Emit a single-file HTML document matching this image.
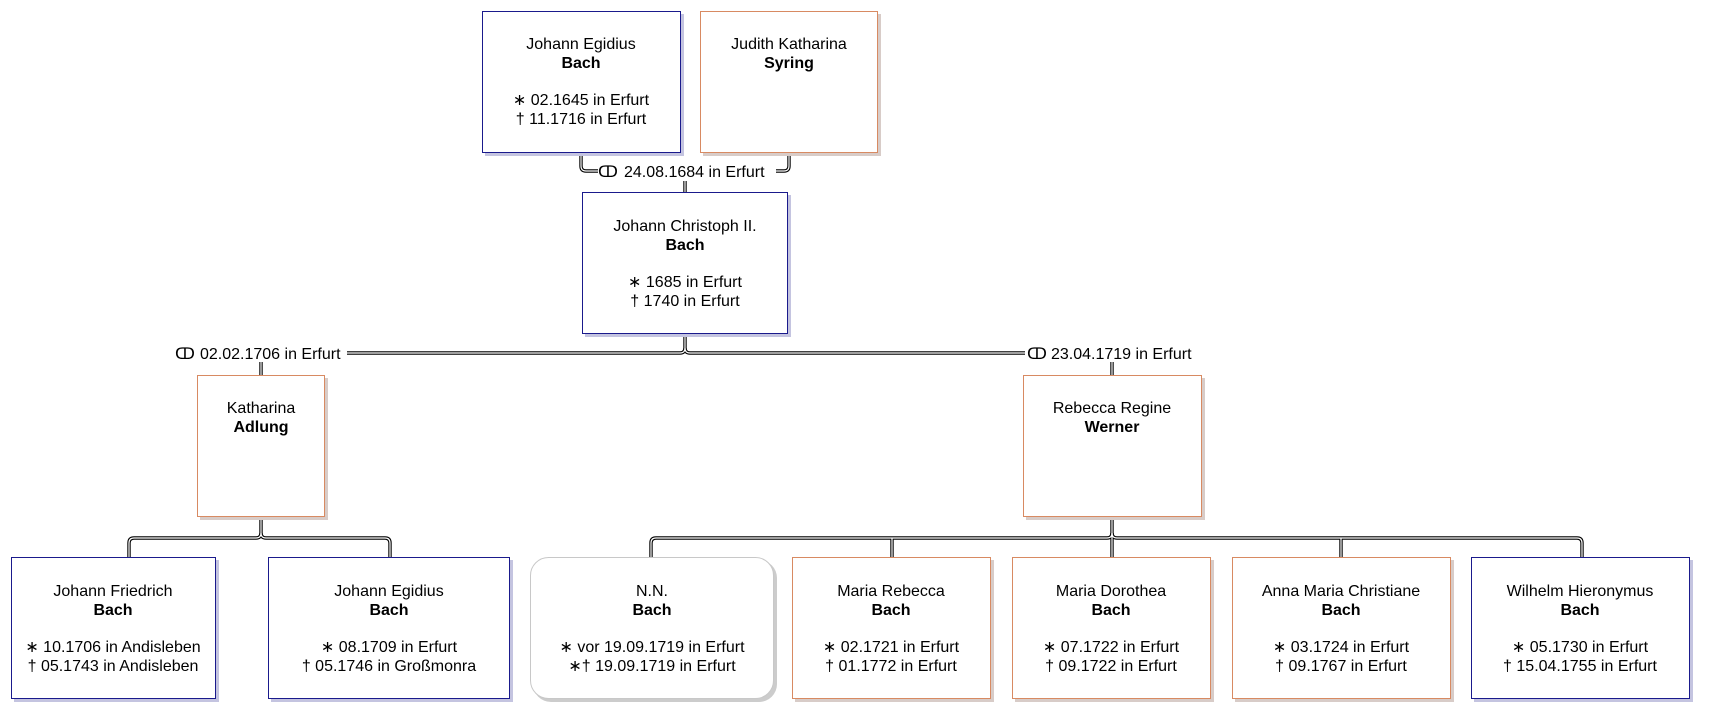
<!DOCTYPE html>
<html><head><meta charset="utf-8"><style>
html,body{margin:0;padding:0;background:#fff;}
svg{display:block;}
text{font-family:"Liberation Sans",sans-serif;font-size:16px;fill:#000;}
.b{font-weight:bold;}
</style></head><body>
<svg width="1710" height="718" viewBox="0 0 1710 718" xmlns="http://www.w3.org/2000/svg">
<g fill="none" stroke-linejoin="round">
<g stroke="#000" stroke-width="3.4">
<path d="M581 153 V166 Q581 171 586 171 H598"/>
<path d="M789 153 V166 Q789 171 784 171 H776"/>
<path d="M685 181 V192"/>
<path d="M685 334 V348 Q685 353 680 353 H347"/>
<path d="M685 348 Q685 353 690 353 H1025"/>
<path d="M261 362 V375"/>
<path d="M1112 362 V375"/>
<path d="M261 517 V533 Q261 538 256 538 H134 Q129 538 129 543 V557"/>
<path d="M261 533 Q261 538 266 538 H385 Q390 538 390 543 V557"/>
<path d="M1112 517 V557"/>
<path d="M1112 533 Q1112 538 1107 538 H656 Q651 538 651 543 V557"/>
<path d="M1112 533 Q1112 538 1117 538 H1577 Q1582 538 1582 543 V557"/>
<path d="M892 538 V557"/><path d="M1341 538 V557"/>
</g>
<g stroke="#fff" stroke-width="1.2">
<path d="M581 153 V166 Q581 171 586 171 H598"/>
<path d="M789 153 V166 Q789 171 784 171 H776"/>
<path d="M685 181 V192"/>
<path d="M685 334 V348 Q685 353 680 353 H347"/>
<path d="M685 348 Q685 353 690 353 H1025"/>
<path d="M261 362 V375"/>
<path d="M1112 362 V375"/>
<path d="M261 517 V533 Q261 538 256 538 H134 Q129 538 129 543 V557"/>
<path d="M261 533 Q261 538 266 538 H385 Q390 538 390 543 V557"/>
<path d="M1112 517 V557"/>
<path d="M1112 533 Q1112 538 1107 538 H656 Q651 538 651 543 V557"/>
<path d="M1112 533 Q1112 538 1117 538 H1577 Q1582 538 1582 543 V557"/>
<path d="M892 538 V557"/><path d="M1341 538 V557"/>
</g>
</g>
<text x="598" y="177">ↀ</text><text x="624" y="177">24.08.1684 in Erfurt</text>
<text x="175" y="359">ↀ</text><text x="200" y="359">02.02.1706 in Erfurt</text>
<text x="1027" y="359">ↀ</text><text x="1051" y="359">23.04.1719 in Erfurt</text>

<g>
<rect x="485" y="14" width="199" height="142" fill="#c4c4e0"/>
<rect x="482.5" y="11.5" width="198" height="141" fill="#fff" stroke="#1a1a8c"/>
<rect x="703" y="14" width="178" height="142" fill="#d8ccc8"/>
<rect x="700.5" y="11.5" width="177" height="141" fill="#fff" stroke="#d88a62"/>
<rect x="585" y="195" width="206" height="142" fill="#c4c4e0"/>
<rect x="582.5" y="192.5" width="205" height="141" fill="#fff" stroke="#1a1a8c"/>
<rect x="200" y="378" width="128" height="142" fill="#d8ccc8"/>
<rect x="197.5" y="375.5" width="127" height="141" fill="#fff" stroke="#d88a62"/>
<rect x="1026" y="378" width="179" height="142" fill="#d8ccc8"/>
<rect x="1023.5" y="375.5" width="178" height="141" fill="#fff" stroke="#d88a62"/>

<rect x="14" y="560" width="205" height="142" fill="#c4c4e0"/>
<rect x="11.5" y="557.5" width="204" height="141" fill="#fff" stroke="#1a1a8c"/>
<rect x="271" y="560" width="242" height="142" fill="#c4c4e0"/>
<rect x="268.5" y="557.5" width="241" height="141" fill="#fff" stroke="#1a1a8c"/>
<rect x="533" y="560" width="244" height="142" rx="18" fill="#cccccc"/>
<rect x="530.5" y="557.5" width="243" height="141" rx="18" fill="#fff" stroke="#c8c8c8"/>
<rect x="795" y="560" width="199" height="142" fill="#d8ccc8"/>
<rect x="792.5" y="557.5" width="198" height="141" fill="#fff" stroke="#d88a62"/>
<rect x="1015" y="560" width="199" height="142" fill="#d8ccc8"/>
<rect x="1012.5" y="557.5" width="198" height="141" fill="#fff" stroke="#d88a62"/>
<rect x="1235" y="560" width="219" height="142" fill="#d8ccc8"/>
<rect x="1232.5" y="557.5" width="218" height="141" fill="#fff" stroke="#d88a62"/>
<rect x="1474" y="560" width="219" height="142" fill="#c4c4e0"/>
<rect x="1471.5" y="557.5" width="218" height="141" fill="#fff" stroke="#1a1a8c"/>
</g>

<g text-anchor="middle">
<text x="581" y="49">Johann Egidius</text><text x="581" y="68" class="b">Bach</text>
<text x="581" y="105">∗  02.1645 in Erfurt</text><text x="581" y="124">†  11.1716 in Erfurt</text>

<text x="789" y="49">Judith Katharina</text><text x="789" y="68" class="b">Syring</text>

<text x="685" y="231">Johann Christoph II.</text><text x="685" y="250" class="b">Bach</text>
<text x="685" y="287">∗  1685 in Erfurt</text><text x="685" y="306">†  1740 in Erfurt</text>

<text x="261" y="413">Katharina</text><text x="261" y="432" class="b">Adlung</text>
<text x="1112" y="413">Rebecca Regine</text><text x="1112" y="432" class="b">Werner</text>

<text x="113" y="596">Johann Friedrich</text><text x="113" y="615" class="b">Bach</text>
<text x="113" y="652">∗  10.1706 in Andisleben</text><text x="113" y="671">†  05.1743 in Andisleben</text>

<text x="389" y="596">Johann Egidius</text><text x="389" y="615" class="b">Bach</text>
<text x="389" y="652">∗  08.1709 in Erfurt</text><text x="389" y="671">†  05.1746 in Großmonra</text>

<text x="652" y="596">N.N.</text><text x="652" y="615" class="b">Bach</text>
<text x="652" y="652">∗ vor 19.09.1719 in Erfurt</text><text x="652" y="671">∗†  19.09.1719 in Erfurt</text>

<text x="891" y="596">Maria Rebecca</text><text x="891" y="615" class="b">Bach</text>
<text x="891" y="652">∗  02.1721 in Erfurt</text><text x="891" y="671">†  01.1772 in Erfurt</text>

<text x="1111" y="596">Maria Dorothea</text><text x="1111" y="615" class="b">Bach</text>
<text x="1111" y="652">∗  07.1722 in Erfurt</text><text x="1111" y="671">†  09.1722 in Erfurt</text>

<text x="1341" y="596">Anna Maria Christiane</text><text x="1341" y="615" class="b">Bach</text>
<text x="1341" y="652">∗  03.1724 in Erfurt</text><text x="1341" y="671">†  09.1767 in Erfurt</text>

<text x="1580" y="596">Wilhelm Hieronymus</text><text x="1580" y="615" class="b">Bach</text>
<text x="1580" y="652">∗  05.1730 in Erfurt</text><text x="1580" y="671">†  15.04.1755 in Erfurt</text>
</g>
</svg>
</body></html>
